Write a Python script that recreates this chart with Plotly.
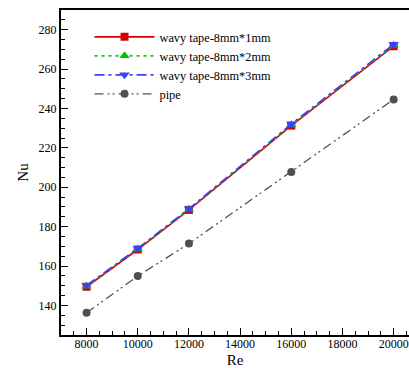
import plotly.graph_objects as go

re_vals = [8000, 10000, 12000, 16000, 20000]
nu_1mm = [149.5, 168.4, 188.5, 231.3, 271.6]
nu_2mm = [149.8, 168.7, 188.8, 231.7, 272.1]
nu_3mm = [150.2, 169.0, 189.1, 232.1, 272.6]
nu_pipe = [136.3, 154.9, 171.4, 207.8, 244.6]

x_ticks = [8000, 10000, 12000, 14000, 16000, 18000, 20000]
x_ticktext = ["8000", "10000", "12000", "14000", "16000", "18000", "20000"]
y_ticks = [140, 160, 180, 200, 220, 240, 260, 280]

names = ["wavy tape-8mm*1mm", "wavy tape-8mm*2mm", "wavy tape-8mm*3mm", "pipe"]

FONT = "Liberation Serif, Times New Roman, serif"

fig = go.Figure()
fig.add_trace(go.Scatter(x=re_vals, y=nu_1mm, name=names[0], mode="lines+markers",
                         line=dict(color="#D40000", width=1.6, dash="solid"),
                         marker=dict(symbol="square", size=8, color="#D40000")))
fig.add_trace(go.Scatter(x=re_vals, y=nu_2mm, name=names[1], mode="lines+markers",
                         line=dict(color="#00D000", width=1.6, dash="3px,4px"),
                         marker=dict(symbol="triangle-up", size=9, color="#00C000")))
fig.add_trace(go.Scatter(x=re_vals, y=nu_3mm, name=names[2], mode="lines+markers",
                         line=dict(color="#3D3DFF", width=1.6, dash="10px,4px,3px,4px"),
                         marker=dict(symbol="triangle-down", size=9, color="#3D3DFF")))
fig.add_trace(go.Scatter(x=re_vals, y=nu_pipe, name=names[3], mode="lines+markers",
                         line=dict(color="#505050", width=1.3, dash="9px,4px,2px,3px,2px,4px"),
                         marker=dict(symbol="circle", size=8, color="#505050")))

fig.update_layout(
    width=409, height=368,
    margin=dict(l=61, r=0, t=10, b=33, autoexpand=False),
    paper_bgcolor="white", plot_bgcolor="white",
    font=dict(family=FONT, size=12, color="black"),
    showlegend=True,
    legend=dict(x=0.082, y=0.962, xanchor="left", yanchor="top",
                bgcolor="rgba(0,0,0,0)", font=dict(family=FONT, size=12.3),
                itemwidth=60, tracegroupgap=0),
)
fig.update_xaxes(
    range=[7000, 20600], tickvals=x_ticks, ticktext=x_ticktext,
    ticks="inside", ticklen=7, tickwidth=1, tickcolor="black",
    minor=dict(dtick=500, tick0=0, ticks="inside", ticklen=4, tickcolor="black"),
    showline=True, linewidth=2, linecolor="black", mirror=True,
    showgrid=False, zeroline=False, automargin=False,
    ticklabelstandoff=-3,
    title=dict(text="Re", font=dict(family=FONT, size=15), standoff=4),
    tickfont=dict(family=FONT, size=12),
)
fig.update_yaxes(
    range=[125, 290], tickvals=y_ticks,
    ticks="inside", ticklen=7, tickwidth=1, tickcolor="black",
    minor=dict(dtick=5, tick0=0, ticks="inside", ticklen=4, tickcolor="black"),
    showline=True, linewidth=2, linecolor="black", mirror=False,
    showgrid=False, zeroline=False, automargin=False,
    title=dict(text="Nu", font=dict(family=FONT, size=15), standoff=6),
    tickfont=dict(family=FONT, size=12),
)

fig.write_html("out.html", config={"displayModeBar": False},
               post_script="document.body.style.margin='0';document.body.style.overflow='hidden';")
